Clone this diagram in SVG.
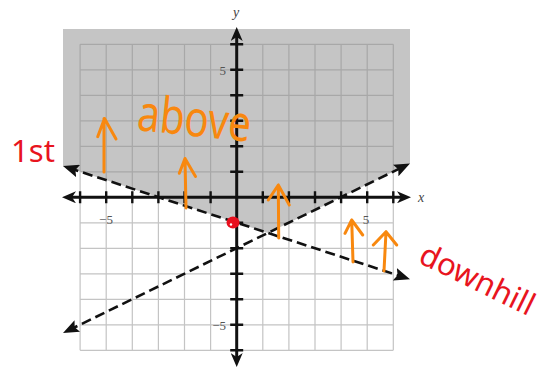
<svg xmlns="http://www.w3.org/2000/svg" width="543" height="368" viewBox="0 0 543 368">
<style>
.grid{fill:none;stroke:#c4c4c4;stroke-width:1.2}
.axis{fill:none;stroke:#111;stroke-width:3}
.tick{fill:none;stroke:#111;stroke-width:2.4}
.bound{fill:none;stroke:#111;stroke-width:2.6;stroke-dasharray:10 5}
.num{font-family:"Liberation Serif",serif;font-size:13px;fill:#555}
.var{font-family:"Liberation Serif",serif;font-size:14px;font-style:italic;fill:#444}
.or{fill:none;stroke:#f8880f;stroke-width:3;stroke-linecap:round;stroke-linejoin:round}
.hand-or{font-family:"Noto Sans",sans-serif;fill:#f8880f}
.hand-red{font-family:"Noto Sans",sans-serif;fill:#e8141e}
</style>
<defs>
<marker id="axhead" viewBox="0 0 14 12" refX="8" refY="6" markerWidth="14" markerHeight="12" markerUnits="userSpaceOnUse" orient="auto-start-reverse">
<path d="M0,0 L14,6 L0,12 L4,6 Z" fill="#111"/>
</marker>
<marker id="lnhead" viewBox="0 0 16 13" refX="10" refY="6.5" markerWidth="16" markerHeight="13" markerUnits="userSpaceOnUse" orient="auto-start-reverse">
<path d="M0,0 L16,6.5 L0,13 L3,6.5 Z" fill="#111"/>
</marker>
</defs>
<rect width="543" height="368" fill="#fff"/>
<g id="grid">
<path class="grid" d="M80.1,44.3V350.3M106.2,44.3V350.3M132.3,44.3V350.3M158.4,44.3V350.3M184.5,44.3V350.3M210.6,44.3V350.3M236.7,44.3V350.3M262.8,44.3V350.3M288.9,44.3V350.3M315,44.3V350.3M341.1,44.3V350.3M367.2,44.3V350.3M393.3,44.3V350.3M80.1,44.3H393.3M80.1,69.8H393.3M80.1,95.3H393.3M80.1,120.8H393.3M80.1,146.3H393.3M80.1,171.8H393.3M80.1,197.3H393.3M80.1,222.8H393.3M80.1,248.3H393.3M80.1,273.8H393.3M80.1,299.3H393.3M80.1,324.8H393.3M80.1,350.3H393.3"/>
</g>
<g id="shading">
<polygon points="63,29 410,29 410,163.5 268,233 63,166" fill="#8c8c8c" fill-opacity="0.5"/>
</g>
<g id="axes">
<line class="axis" x1="68" y1="197.3" x2="405" y2="197.3" marker-start="url(#axhead)" marker-end="url(#axhead)"/>
<line class="axis" x1="236.7" y1="33" x2="236.7" y2="361" marker-start="url(#axhead)" marker-end="url(#axhead)"/>
<path class="tick" d="M80.1,191.3V203.3M106.2,191.3V203.3M132.3,191.3V203.3M158.4,191.3V203.3M184.5,191.3V203.3M210.6,191.3V203.3M262.8,191.3V203.3M288.9,191.3V203.3M315,191.3V203.3M341.1,191.3V203.3M367.2,191.3V203.3M393.3,191.3V203.3"/>
<path class="tick" d="M230.2,44.3H243.2M230.2,69.8H243.2M230.2,95.3H243.2M230.2,120.8H243.2M230.2,146.3H243.2M230.2,171.8H243.2M230.2,222.8H243.2M230.2,248.3H243.2M230.2,273.8H243.2M230.2,299.3H243.2M230.2,324.8H243.2M230.2,350.3H243.2"/>
</g>
<g id="connectors">
<line class="bound" x1="68.7" y1="167.9" x2="404.3" y2="277.4" marker-start="url(#lnhead)" marker-end="url(#lnhead)"/>
<line class="bound" x1="68.4" y1="330.4" x2="404.6" y2="166.1" marker-start="url(#lnhead)" marker-end="url(#lnhead)"/>
</g>
<g id="labels">
<text class="var" x="236" y="17" text-anchor="middle">y</text>
<text class="var" x="418" y="202">x</text>
<text class="num" x="226" y="75" text-anchor="end">5</text>
<text class="num" x="226" y="330" text-anchor="end">−5</text>
<text class="num" x="106" y="224" text-anchor="middle">−5</text>
<text class="num" x="366" y="224" text-anchor="middle">5</text>
</g>
<g id="annotations">
<path class="or" d="M104,172V118.5M97.7,136.7L104.5,118.5L116,139"/>
<path class="or" d="M186,208L185,158.5M179.3,173.3L185,158.5L195.5,176.5"/>
<path class="or" d="M278.7,238L278.3,185M268.3,200L278.3,185L289.3,205"/>
<path class="or" d="M353,262L351.7,220M345,233.3L351.7,220L362.7,235"/>
<path class="or" d="M384,271L386,232M373.3,245L386,231.7L396.7,245"/>
<text class="hand-or" x="136" y="130" font-size="50" textLength="114" lengthAdjust="spacingAndGlyphs" transform="rotate(6 136 130)">above</text>
<text class="hand-red" x="11" y="162" font-size="30" textLength="44" lengthAdjust="spacingAndGlyphs">1st</text>
<text class="hand-red" x="417" y="262" font-size="31" textLength="124" lengthAdjust="spacingAndGlyphs" transform="rotate(26 417 262)">downhill</text>
<ellipse cx="233" cy="222.5" rx="6.5" ry="6" fill="#e8101e"/>
<circle cx="231" cy="224.5" r="1.2" fill="#fff"/>
</g>
</svg>
